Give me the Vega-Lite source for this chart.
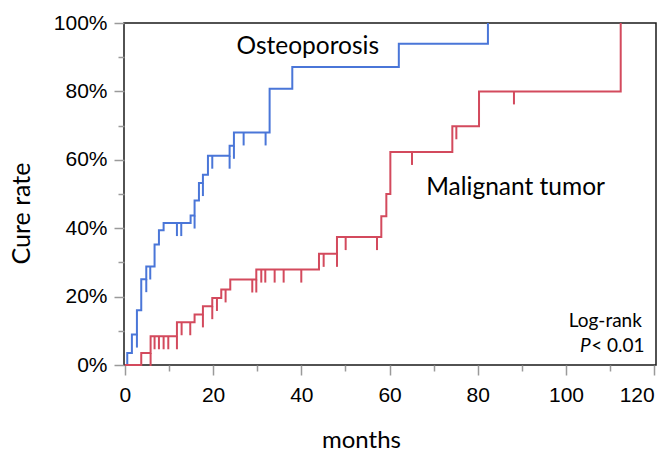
{
  "$schema": "https://vega.github.io/schema/vega-lite/v6.json",
  "width": 532,
  "height": 342,
  "autosize": {"type": "none"},
  "padding": {"left": 124, "top": 23, "right": 6, "bottom": 91},
  "background": "white",
  "config": {
    "view": {"stroke": "#1a1a1a", "strokeWidth": 1.5, "fill": "white"},
    "axis": {"grid": false, "domain": false, "tickColor": "#9a9a9a", "tickWidth": 1.5, "labelColor": "black", "titleColor": "black"}
  },
  "datasets": {
    "curves": [
      {"group": "Osteoporosis", "month": 0, "pct": 0},
      {"group": "Osteoporosis", "month": 0.54, "pct": 3.5},
      {"group": "Osteoporosis", "month": 1.59, "pct": 8.9},
      {"group": "Osteoporosis", "month": 2.73, "pct": 16.0},
      {"group": "Osteoporosis", "month": 3.71, "pct": 25.1},
      {"group": "Osteoporosis", "month": 4.85, "pct": 28.8},
      {"group": "Osteoporosis", "month": 6.73, "pct": 35.2},
      {"group": "Osteoporosis", "month": 7.72, "pct": 39.4},
      {"group": "Osteoporosis", "month": 8.78, "pct": 41.5},
      {"group": "Osteoporosis", "month": 14.9, "pct": 43.7},
      {"group": "Osteoporosis", "month": 15.8, "pct": 48.1},
      {"group": "Osteoporosis", "month": 16.79, "pct": 53.2},
      {"group": "Osteoporosis", "month": 17.69, "pct": 55.6},
      {"group": "Osteoporosis", "month": 18.83, "pct": 61.2},
      {"group": "Osteoporosis", "month": 23.74, "pct": 64.1},
      {"group": "Osteoporosis", "month": 24.72, "pct": 68.0},
      {"group": "Osteoporosis", "month": 32.81, "pct": 80.8},
      {"group": "Osteoporosis", "month": 37.95, "pct": 87.1},
      {"group": "Osteoporosis", "month": 62.1, "pct": 93.9},
      {"group": "Osteoporosis", "month": 82.3, "pct": 100},
      {"group": "Malignant tumor", "month": 0, "pct": 0},
      {"group": "Malignant tumor", "month": 3.71, "pct": 3.5},
      {"group": "Malignant tumor", "month": 5.83, "pct": 8.4},
      {"group": "Malignant tumor", "month": 11.8, "pct": 12.5},
      {"group": "Malignant tumor", "month": 15.8, "pct": 14.8},
      {"group": "Malignant tumor", "month": 17.69, "pct": 17.2},
      {"group": "Malignant tumor", "month": 19.81, "pct": 19.6},
      {"group": "Malignant tumor", "month": 21.85, "pct": 22.1},
      {"group": "Malignant tumor", "month": 23.89, "pct": 25.0},
      {"group": "Malignant tumor", "month": 29.79, "pct": 27.9},
      {"group": "Malignant tumor", "month": 44.0, "pct": 32.5},
      {"group": "Malignant tumor", "month": 48.08, "pct": 37.4},
      {"group": "Malignant tumor", "month": 58.13, "pct": 43.5},
      {"group": "Malignant tumor", "month": 59.27, "pct": 50.0},
      {"group": "Malignant tumor", "month": 60.18, "pct": 62.3},
      {"group": "Malignant tumor", "month": 74.23, "pct": 69.8},
      {"group": "Malignant tumor", "month": 80.28, "pct": 80.0},
      {"group": "Malignant tumor", "month": 112.4, "pct": 100}
    ],
    "censored": [
      {"group": "Osteoporosis", "month": 2.73, "pct": 8.9},
      {"group": "Osteoporosis", "month": 4.85, "pct": 25.1},
      {"group": "Osteoporosis", "month": 5.75, "pct": 28.8},
      {"group": "Osteoporosis", "month": 11.8, "pct": 41.5},
      {"group": "Osteoporosis", "month": 12.78, "pct": 41.5},
      {"group": "Osteoporosis", "month": 15.8, "pct": 43.7},
      {"group": "Osteoporosis", "month": 17.69, "pct": 53.2},
      {"group": "Osteoporosis", "month": 19.81, "pct": 61.2},
      {"group": "Osteoporosis", "month": 23.74, "pct": 61.2},
      {"group": "Osteoporosis", "month": 24.72, "pct": 64.1},
      {"group": "Osteoporosis", "month": 26.92, "pct": 68.0},
      {"group": "Osteoporosis", "month": 31.9, "pct": 68.0},
      {"group": "Malignant tumor", "month": 5.83, "pct": 3.5},
      {"group": "Malignant tumor", "month": 6.73, "pct": 8.4},
      {"group": "Malignant tumor", "month": 7.72, "pct": 8.4},
      {"group": "Malignant tumor", "month": 8.78, "pct": 8.4},
      {"group": "Malignant tumor", "month": 9.84, "pct": 8.4},
      {"group": "Malignant tumor", "month": 11.8, "pct": 8.4},
      {"group": "Malignant tumor", "month": 12.86, "pct": 12.5},
      {"group": "Malignant tumor", "month": 14.82, "pct": 12.5},
      {"group": "Malignant tumor", "month": 17.69, "pct": 14.8},
      {"group": "Malignant tumor", "month": 19.81, "pct": 17.2},
      {"group": "Malignant tumor", "month": 20.87, "pct": 19.6},
      {"group": "Malignant tumor", "month": 22.83, "pct": 22.1},
      {"group": "Malignant tumor", "month": 28.88, "pct": 25.0},
      {"group": "Malignant tumor", "month": 29.79, "pct": 25.0},
      {"group": "Malignant tumor", "month": 30.92, "pct": 27.9},
      {"group": "Malignant tumor", "month": 31.83, "pct": 27.9},
      {"group": "Malignant tumor", "month": 33.95, "pct": 27.9},
      {"group": "Malignant tumor", "month": 35.99, "pct": 27.9},
      {"group": "Malignant tumor", "month": 39.99, "pct": 27.9},
      {"group": "Malignant tumor", "month": 45.06, "pct": 32.5},
      {"group": "Malignant tumor", "month": 48.08, "pct": 32.5},
      {"group": "Malignant tumor", "month": 50.05, "pct": 37.4},
      {"group": "Malignant tumor", "month": 57.15, "pct": 37.4},
      {"group": "Malignant tumor", "month": 65.09, "pct": 62.3},
      {"group": "Malignant tumor", "month": 75.14, "pct": 69.8},
      {"group": "Malignant tumor", "month": 88.2, "pct": 80.0}
    ],
    "names": [
      {"label": "Osteoporosis", "month": 25.3, "pct": 91.0},
      {"label": "Malignant tumor", "month": 68.3, "pct": 49.8}
    ],
    "stats": [
      {"label": "Log-rank", "month": 117.2, "pct": 11.1}
    ],
    "pvalue": [
      {"label": "< 0.01", "month": 105.7, "pct": 3.7}
    ],
    "pletter": [
      {"label": "P", "month": 105.6, "pct": 3.7}
    ]
  },
  "resolve": {"axis": {"x": "independent", "y": "independent"}},
  "layer": [
    {
      "data": {"name": "curves"},
      "mark": {"type": "line", "interpolate": "step-after", "strokeWidth": 2},
      "encoding": {
        "x": {
          "field": "month", "type": "quantitative",
          "scale": {"domain": [-0.2, 120.4], "nice": false, "zero": false},
          "axis": {
            "orient": "bottom", "values": [0, 20, 40, 60, 80, 100, 120],
            "title": "months", "titleFont": "Lato", "titleFontSize": 24, "titleFontWeight": "normal",
            "titleX": 237, "titleY": 82, "titleBaseline": "alphabetic", "titleAlign": "center",
            "labelFont": "Liberation Sans", "labelFontSize": 21, "labelPadding": 9, "tickSize": 10,
            "labelAlign": {"condition": {"test": "datum.value >= 120", "value": "right"}, "value": "center"},
            "labelFlush": false, "labelOverlap": false
          }
        },
        "y": {
          "field": "pct", "type": "quantitative",
          "scale": {"domain": [0, 100], "nice": false},
          "axis": {
            "orient": "left", "values": [0, 20, 40, 60, 80, 100],
            "labelExpr": "datum.value + '%'",
            "title": "Cure rate", "titleFont": "Lato", "titleFontSize": 25, "titleFontWeight": "normal",
            "titleX": -103, "titleY": 190, "titleAngle": 270, "titleBaseline": "middle", "titleAlign": "center",
            "labelFont": "Liberation Sans", "labelFontSize": 21, "labelPadding": 7, "tickSize": 10,
            "labelFlush": false, "labelOverlap": false
          }
        },
        "color": {
          "field": "group", "type": "nominal",
          "scale": {"domain": ["Osteoporosis", "Malignant tumor"], "range": ["#4a76d8", "#d34a5d"]},
          "legend": null
        },
        "detail": {"field": "group"}
      }
    },
    {
      "data": {"name": "censored"},
      "mark": {"type": "point", "shape": "M0,0L0,1", "size": 676, "filled": false, "strokeWidth": 2, "opacity": 1},
      "encoding": {
        "x": {
          "field": "month", "type": "quantitative",
          "axis": {"orient": "bottom", "values": [10, 30, 50, 70, 90, 110], "labels": false, "title": null, "tickSize": 6}
        },
        "y": {
          "field": "pct", "type": "quantitative",
          "axis": {"orient": "left", "values": [10, 30, 50, 70, 90], "labels": false, "title": null, "tickSize": 6}
        },
        "color": {"field": "group", "type": "nominal", "legend": null}
      }
    },
    {
      "data": {"name": "names"},
      "mark": {"type": "text", "align": "left", "baseline": "alphabetic", "font": "Lato", "fontSize": 24.5, "color": "black"},
      "encoding": {
        "x": {"field": "month", "type": "quantitative", "axis": null},
        "y": {"field": "pct", "type": "quantitative", "axis": null},
        "text": {"field": "label"}
      }
    },
    {
      "data": {"name": "stats"},
      "mark": {"type": "text", "align": "right", "baseline": "alphabetic", "font": "Lato", "fontSize": 19, "color": "black"},
      "encoding": {
        "x": {"field": "month", "type": "quantitative", "axis": null},
        "y": {"field": "pct", "type": "quantitative", "axis": null},
        "text": {"field": "label"}
      }
    },
    {
      "data": {"name": "pvalue"},
      "mark": {"type": "text", "align": "left", "baseline": "alphabetic", "font": "Lato", "fontSize": 19, "color": "black"},
      "encoding": {
        "x": {"field": "month", "type": "quantitative", "axis": null},
        "y": {"field": "pct", "type": "quantitative", "axis": null},
        "text": {"field": "label"}
      }
    },
    {
      "data": {"name": "pletter"},
      "mark": {"type": "text", "align": "right", "baseline": "alphabetic", "font": "Lato", "fontSize": 19, "fontStyle": "italic", "color": "black"},
      "encoding": {
        "x": {"field": "month", "type": "quantitative", "axis": null},
        "y": {"field": "pct", "type": "quantitative", "axis": null},
        "text": {"field": "label"}
      }
    }
  ]
}
